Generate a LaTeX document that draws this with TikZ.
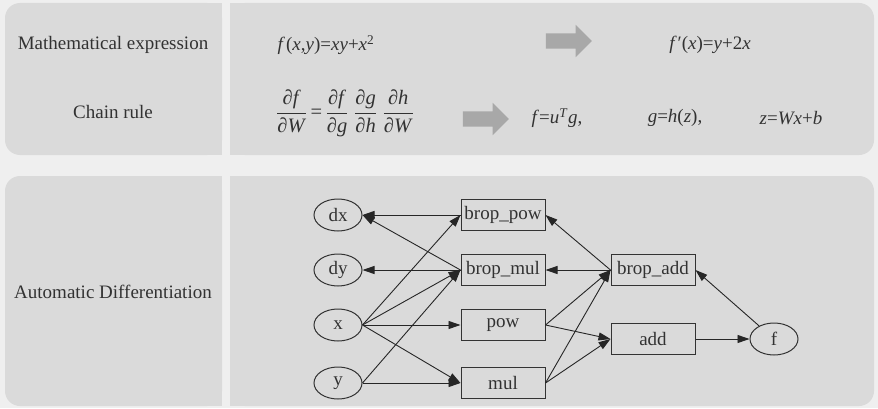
\documentclass[tikz,border=0pt]{standalone}
\usepackage{amsmath}
\usepackage{fontspec}
\setmainfont{Liberation Serif}
\usetikzlibrary{shapes.geometric, shapes.arrows, arrows.meta, positioning}
\definecolor{bggray}{RGB}{239,239,239}
\definecolor{panelgray}{RGB}{218,218,218}
\definecolor{arrowgray}{RGB}{168,168,168}
\definecolor{textgray}{RGB}{50,50,50}
\newcommand\pd[2]{\ensuremath{\displaystyle\frac{\mbox{∂\textit{#1}}}{\mbox{∂\textit{#2}}}}}

\begin{document}
\begin{tikzpicture}[
    x=1pt, y=1pt,
    font=\fontsize{19}{22}\selectfont,
    node distance=22pt,
    panel/.style={fill=panelgray, rounded corners=15pt},
    flat/.style={fill=panelgray},
    lbl/.style={text=textgray, inner sep=0pt},
    op/.style={rectangle, draw=black!80, line width=1pt, minimum width=84pt, minimum height=31pt, inner sep=0pt, text=textgray},
    var/.style={ellipse, draw=black!80, line width=1pt, minimum width=48pt, minimum height=32pt, inner sep=0pt, text=textgray},
    arr/.style={-{Triangle[length=12pt, width=8pt]}, line width=0.9pt, black!85},
    bigarr/.style={single arrow, fill=arrowgray, minimum height=46pt, minimum width=0pt, inner xsep=0pt, inner ysep=7.5pt, single arrow head extend=8.5pt}
]
\fill[bggray] (0,0) rectangle (878,408);
\useasboundingbox (0,0) rectangle (878,408);
\fill[panel] (5,253) rectangle (222,405); \fill[flat] (200,253) rectangle (222,405);
\fill[panel] (230,253) rectangle (874,405); \fill[flat] (230,253) rectangle (260,405);
\fill[panel] (5,2) rectangle (222,232); \fill[flat] (200,2) rectangle (222,232);
\fill[panel] (230,2) rectangle (874,232); \fill[flat] (230,2) rectangle (260,232);

\node[lbl] (mexp) at (113,363) {Mathematical expression};
\node[lbl] (chain) at (113,296) {Chain rule};
\node[lbl] (autod) at (113,116) {Automatic Differentiation};

\node[lbl] (fxy) at (326,363) {\textit{f\,}(\textit{x},\textit{y})=\textit{xy}+\textit{x}\textsuperscript{2}};
\node[bigarr] (arrA) at (565,367) {};
\node[lbl] (fdx) at (710,363) {\textit{f\,}′(\textit{x})=\textit{y}+2\textit{x}};
\node[lbl, font=\fontsize{20.5}{24}\selectfont] (cr) at (345,295) {\pd{f}{W}\,=\,\pd{f}{g}\;\pd{g}{h}\;\pd{h}{W}};
\node[bigarr] (arrB) at (482,289) {};
\node[lbl] (fu) at (557,290) {\textit{f}=\textit{u}\textsuperscript{\textit{T}}\textit{g},};
\node[lbl] (gh) at (675,290) {\textit{g}=\textit{h}(\textit{z}),};
\node[lbl] (zw) at (791,290) {\textit{z}=\textit{Wx}+\textit{b}};

\node[var] (dx) at (338,193) {dx};
\node[var, below=of dx] (dy) {dy};
\node[var, below=of dy] (x) {x};
\node[var, below=25pt of x] (y) {y};
\node[op, right=98pt of dx] (bpow) {brop\_pow};
\node[op, right=98pt of dy] (bmul) {brop\_mul};
\node[op, right=98pt of x] (pow) {pow};
\node[op, right=98pt of y] (mul) {mul};
\node[op, right=65pt of bmul] (badd) {brop\_add};
\node[op, below=37pt of badd] (add) {add};
\node[var, right=54pt of add] (f) {f};

\draw[arr] (bpow.west) -- (dx.east);
\draw[arr] (bmul.west) -- (dx.east);
\draw[arr] (bmul.west) -- (dy.east);
\foreach \t in {bpow, bmul, pow, mul} \draw[arr] (x.east) -- (\t.west);
\draw[arr] (y.east) -- (bmul.west);
\draw[arr] (y.east) -- (mul.west);
\draw[arr] (badd.west) -- (bpow.east);
\draw[arr] (badd.west) -- (bmul.east);
\foreach \s in {pow, mul} {
    \draw[arr] (\s.east) -- (badd.west);
    \draw[arr] (\s.east) -- (add.west);
}
\draw[arr] (add) -- (f);
\draw[arr] (f) -- (badd.east);
\end{tikzpicture}
\end{document}
